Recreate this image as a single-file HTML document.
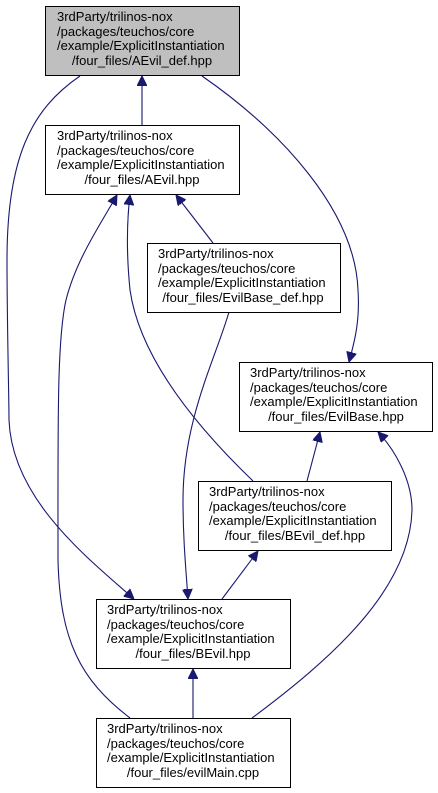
<!DOCTYPE html>
<html><head><meta charset="utf-8"><style>
html,body{margin:0;padding:0;background:#fff;}
svg{display:block;}
text{font-family:"Liberation Sans",sans-serif;font-size:13px;fill:#000;}
</style></head><body>
<svg width="438" height="793" viewBox="0 0 438 793" xmlns="http://www.w3.org/2000/svg">
<defs>
<marker id="a" viewBox="0 0 10 10" refX="10" refY="5" markerWidth="10" markerHeight="10" markerUnits="userSpaceOnUse" orient="auto">
<path d="M0,0 L10,5 L0,10 z" fill="#191970" stroke="#191970"/>
</marker>
</defs>
<g fill="none" stroke="#191970" stroke-width="1.1" marker-end="url(#a)">
<path d="M142,125 L142,76"/>
<path d="M80,76 C30,110 7,160 7,260 C7,320 9,400 9,420 C12,500 90,560 134,599"/>
<path d="M202,76 C280,130 355,210 358,290 C360,320 355,340 349,362"/>
<path d="M130,718 C80,680 60,640 58,560 C58,420 57,340 66,300 C76,260 100,225 117,195"/>
<path d="M253,481 C200,430 140,360 130,290 C126,250 127,220 130,195"/>
<path d="M213,243 L176,195"/>
<path d="M229,312 C215,360 183,420 183,500 C183,540 186,570 188,599"/>
<path d="M307,481 L320,432"/>
<path d="M252,718 C330,660 410,590 412,510 C412,480 395,450 378,432"/>
<path d="M222,599 L258,551"/>
<path d="M193,718 L193,669"/>
</g>
<g stroke="#000" stroke-width="1">
<rect x="45.5" y="6.5" width="194" height="69" fill="#bfbfbf"/>
<rect x="45.5" y="125.5" width="194" height="69" fill="#fff"/>
<rect x="147.5" y="243.5" width="193" height="69" fill="#fff"/>
<rect x="239.5" y="362.5" width="193" height="69" fill="#fff"/>
<rect x="198.5" y="481.5" width="193" height="69" fill="#fff"/>
<rect x="96.5" y="599.5" width="194" height="69" fill="#fff"/>
<rect x="96.5" y="718.5" width="194" height="69" fill="#fff"/>
</g>
<g>
<text x="57" y="21">3rdParty/trilinos-nox</text><text x="57" y="36">/packages/teuchos/core</text><text x="57" y="50">/example/ExplicitInstantiation</text><text x="142" y="65" text-anchor="middle">/four_files/AEvil_def.hpp</text>
<text x="57" y="140">3rdParty/trilinos-nox</text><text x="57" y="155">/packages/teuchos/core</text><text x="57" y="169">/example/ExplicitInstantiation</text><text x="142" y="184" text-anchor="middle">/four_files/AEvil.hpp</text>
<text x="158" y="258">3rdParty/trilinos-nox</text><text x="158" y="273">/packages/teuchos/core</text><text x="158" y="287">/example/ExplicitInstantiation</text><text x="243" y="302" text-anchor="middle">/four_files/EvilBase_def.hpp</text>
<text x="250" y="377">3rdParty/trilinos-nox</text><text x="250" y="392">/packages/teuchos/core</text><text x="250" y="406">/example/ExplicitInstantiation</text><text x="336" y="421" text-anchor="middle">/four_files/EvilBase.hpp</text>
<text x="209" y="496">3rdParty/trilinos-nox</text><text x="209" y="511">/packages/teuchos/core</text><text x="209" y="525">/example/ExplicitInstantiation</text><text x="295" y="540" text-anchor="middle">/four_files/BEvil_def.hpp</text>
<text x="107" y="614">3rdParty/trilinos-nox</text><text x="107" y="629">/packages/teuchos/core</text><text x="107" y="643">/example/ExplicitInstantiation</text><text x="193" y="658" text-anchor="middle">/four_files/BEvil.hpp</text>
<text x="107" y="733">3rdParty/trilinos-nox</text><text x="107" y="748">/packages/teuchos/core</text><text x="107" y="762">/example/ExplicitInstantiation</text><text x="193" y="777" text-anchor="middle">/four_files/evilMain.cpp</text>
</g>
</svg>
</body></html>
